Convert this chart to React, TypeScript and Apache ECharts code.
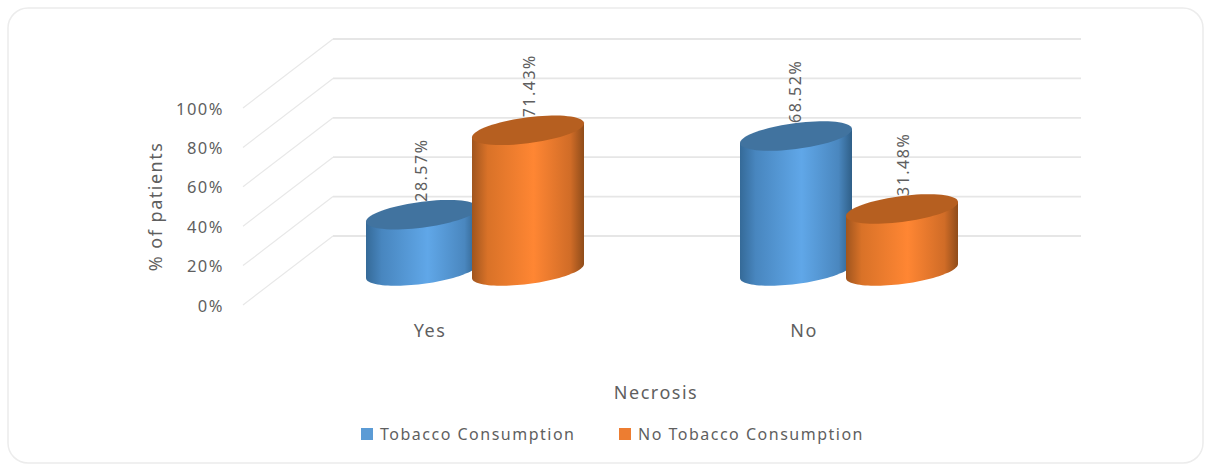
import React, { useEffect, useRef } from "react";
import * as echarts from "echarts";

const categories = ["Yes", "No"];
const seriesNames = ["Tobacco Consumption", "No Tobacco Consumption"];
const tobaccoValues = [28.57, 68.52];
const noTobaccoValues = [71.43, 31.48];
const yTicks = [0, 20, 40, 60, 80, 100];

const TEXT = "#5f5f5f";
const FONT = "Noto Sans";

// Oblique projection of the floor: how far the back wall sits from the axis plane.
const WALL_DX = 90;
const WALL_DY = -69;
const WALL_WIDTH = 748;
// Cylinders stand halfway into the floor.
const BASE_DX = 45;
const BASE_DY = -34;
const BAR_OFFSET = 53;
const RADIUS = 56;
const SHEAR = 7;
const MINOR = 13;

function rimPoint(cx: number, cy: number, t: number) {
  return [cx + RADIUS * Math.cos(t), cy - SHEAR * Math.cos(t) + MINOR * Math.sin(t)];
}

function rim(cx: number, cy: number, from: number, to: number, steps = 48) {
  const pts: number[][] = [];
  for (let i = 0; i <= steps; i++) {
    pts.push(rimPoint(cx, cy, from + ((to - from) * i) / steps));
  }
  return pts;
}

function sideFill(stops: string[]) {
  const offsets = [0, 0.14, 0.55, 0.88, 1];
  return new echarts.graphic.LinearGradient(
    0,
    0,
    1,
    0,
    stops.map((color, i) => ({ offset: offsets[i], color }))
  );
}

function cylinderSeries(
  name: string,
  values: number[],
  side: number,
  swatch: string,
  shades: string[],
  cap: string
) {
  return {
    type: "custom",
    name,
    itemStyle: { color: swatch },
    data: values.map((v, i) => [i, v]),
    encode: { x: 0, y: 1 },
    renderItem: (_p: any, api: any) => {
      const cat = api.value(0);
      const value = api.value(1);
      const [fx, topY] = api.coord([cat, value]);
      const [, floorY] = api.coord([cat, 0]);
      const cx = fx + BASE_DX + side * BAR_OFFSET;
      const topC = topY + BASE_DY;
      const baseC = floorY + BASE_DY;
      const wall = [
        ...rim(cx, topC, Math.PI, 0, 1),
        ...rim(cx, baseC, 0, Math.PI),
      ];
      return {
        type: "group",
        children: [
          {
            type: "polygon",
            shape: { points: wall },
            style: { fill: sideFill(shades) },
          },
          {
            type: "polygon",
            shape: { points: rim(cx, topC, 0, Math.PI * 2, 72) },
            style: { fill: cap },
          },
          {
            type: "text",
            x: cx + side,
            y: topC - 13,
            rotation: Math.PI / 2,
            style: {
              text: value.toFixed(2) + "%",
              fill: TEXT,
              font: `16px "${FONT}"`,
              textAlign: "left",
              textVerticalAlign: "middle",
            },
          },
        ],
      };
    },
  };
}

// Gridlines run along the side wall, then across the back wall.
const wallSeries = {
  type: "custom",
  silent: true,
  data: yTicks.map((t) => [0, t]),
  encode: { x: 0, y: 1 },
  renderItem: (p: any, api: any) => {
    const y = api.coord([0, api.value(1)])[1];
    const x = p.coordSys.x;
    return {
      type: "group",
      children: [
        {
          type: "line",
          shape: { x1: x, y1: y, x2: x + WALL_DX, y2: y + WALL_DY },
          style: { stroke: "#e8e8e8", lineWidth: 1.2 },
        },
        {
          type: "line",
          shape: {
            x1: x + WALL_DX,
            y1: y + WALL_DY,
            x2: x + WALL_DX + WALL_WIDTH,
            y2: y + WALL_DY,
          },
          style: { stroke: "#e6e6e6", lineWidth: 1.8 },
        },
      ],
    };
  },
};

export default function App() {
  const ref = useRef<HTMLDivElement>(null);

  useEffect(() => {
    const chart = echarts.init(ref.current!, undefined, { renderer: "svg" });
    chart.setOption({
      animation: false,
      backgroundColor: "#ffffff",
      textStyle: { fontFamily: FONT, color: TEXT },
      graphic: [
        {
          type: "rect",
          silent: true,
          z: -10,
          shape: { x: 8, y: 8, width: 1195, height: 455, r: 20 },
          style: { fill: "#ffffff", stroke: "#ececec", lineWidth: 1.5 },
        },
      ],
      grid: { left: 243, top: 108, width: 748, height: 197, containLabel: false },
      xAxis: {
        type: "category",
        data: categories,
        name: "Necrosis",
        nameLocation: "middle",
        nameGap: 78,
        nameTextStyle: { color: TEXT, fontSize: 18, fontFamily: FONT, padding: [0, 0, 0, 78] },
        axisLine: { show: false },
        axisTick: { show: false },
        axisLabel: { color: TEXT, fontSize: 18, fontFamily: FONT, margin: 16 },
        splitLine: { show: false },
      },
      yAxis: {
        type: "value",
        min: 0,
        max: 100,
        interval: 20,
        name: "% of patients",
        nameLocation: "middle",
        nameGap: 79,
        nameTextStyle: { color: TEXT, fontSize: 18, fontFamily: FONT },
        axisLine: { show: false },
        axisTick: { show: false },
        splitLine: { show: false },
        axisLabel: {
          color: TEXT,
          fontSize: 16.5,
          fontFamily: FONT,
          margin: 19,
          formatter: (v: number) => `${v}%`,
        },
      },
      legend: {
        data: seriesNames,
        left: 356,
        top: 421,
        icon: "rect",
        itemWidth: 12,
        itemHeight: 12,
        itemGap: 72,
        textStyle: { color: TEXT, fontSize: 16, fontFamily: FONT, padding: [0, 0, 0, 2] },
      },
      series: [
        wallSeries,
        cylinderSeries(
          seriesNames[0],
          tobaccoValues,
          -1,
          "#5b9bd5",
          ["#356a98", "#4886bf", "#60a7e8", "#4a87bf", "#2f5f88"],
          "#41739f"
        ),
        cylinderSeries(
          seriesNames[1],
          noTobaccoValues,
          1,
          "#ed7d31",
          ["#a0551e", "#d97228", "#ff8633", "#d06c27", "#8f4c1a"],
          "#b65f20"
        ),
      ],
    });
    return () => chart.dispose();
  }, []);

  return (
    <div
      ref={ref}
      style={{
        position: "absolute",
        left: 0,
        top: 0,
        width: 1205,
        height: 469,
        letterSpacing: "1.5px",
      }}
    />
  );
}
